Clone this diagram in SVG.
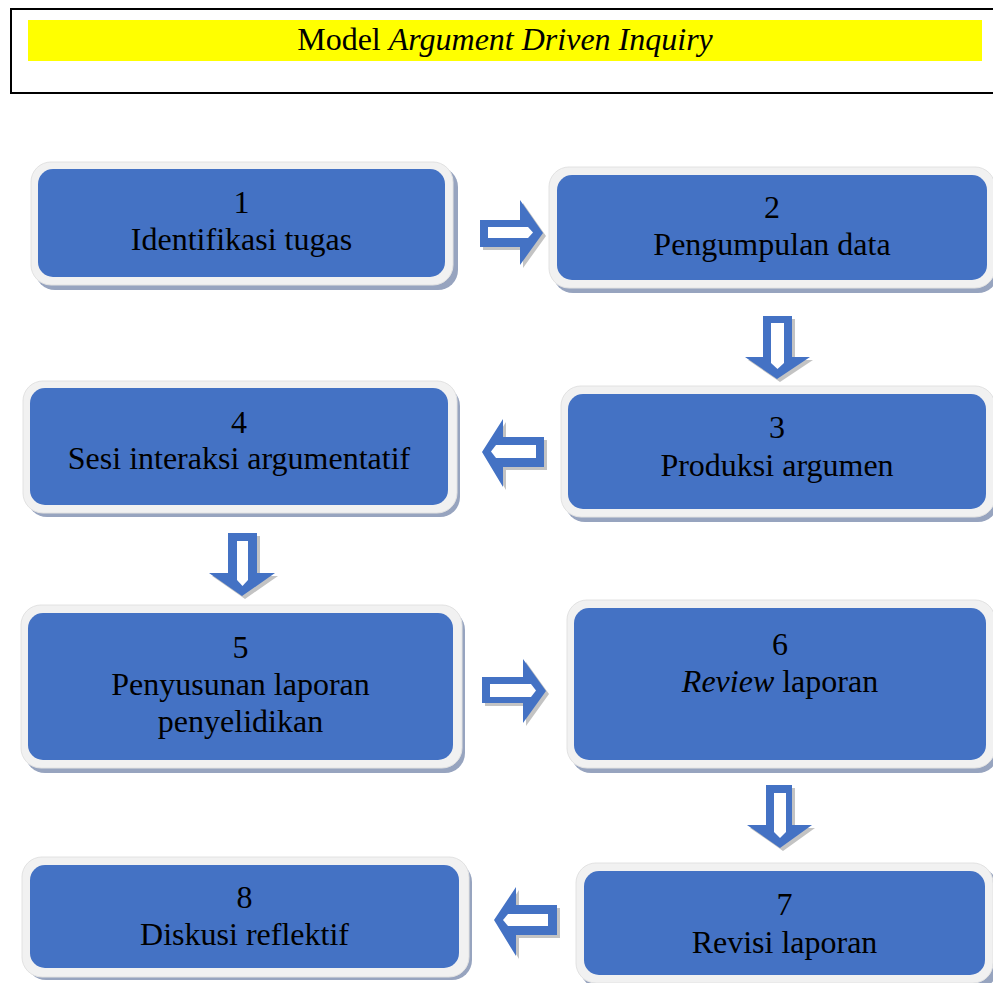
<svg xmlns="http://www.w3.org/2000/svg" width="993" height="983" viewBox="0 0 993 983">
<style>
.bg{fill:#ffffff}
.sh{fill:#97a4bf}
.fr{fill:#f1f1f1;stroke:#e2e2e2;stroke-width:1}
.bl{fill:#4472c4}
.t{font-family:"Liberation Serif","Times New Roman",serif;font-size:32px;fill:#000;text-anchor:middle}
.i{font-style:italic}
.ash{fill:#c3c3c3}
.ar{fill:#4472c4}
.ai{fill:#ffffff}
</style>
<rect class="bg" x="0" y="0" width="993" height="983"/>
<g id="title">
<rect x="11" y="9" width="990" height="84" fill="#ffffff" stroke="#000" stroke-width="2"/>
<rect x="28" y="20" width="954" height="41" fill="#ffff00"/>
<text class="t" x="505" y="50">Model <tspan class="i">Argument Driven Inquiry</tspan></text>
</g>
<g id="node1">
<rect class="sh" x="35" y="167" width="423" height="123" rx="20"/>
<rect class="fr" x="31" y="162" width="422" height="123" rx="20"/>
<rect class="bl" x="38" y="169" width="407" height="108" rx="15"/>
<text class="t" x="241.5" y="213">1</text>
<text class="t" x="241.5" y="250">Identifikasi tugas</text>
</g>
<g id="node2">
<rect class="sh" x="553" y="172" width="445" height="121" rx="20"/>
<rect class="fr" x="549" y="167" width="446" height="121" rx="20"/>
<rect class="bl" x="557" y="175" width="430" height="105" rx="15"/>
<text class="t" x="772" y="218">2</text>
<text class="t" x="772" y="255">Pengumpulan data</text>
</g>
<g id="node3">
<rect class="sh" x="565" y="391" width="433" height="131" rx="20"/>
<rect class="fr" x="561" y="386" width="434" height="131" rx="20"/>
<rect class="bl" x="568" y="394" width="418" height="115" rx="15"/>
<text class="t" x="777" y="438">3</text>
<text class="t" x="777" y="476">Produksi argumen</text>
</g>
<g id="node4">
<rect class="sh" x="27" y="386" width="433" height="131" rx="20"/>
<rect class="fr" x="23" y="381" width="434" height="132" rx="20"/>
<rect class="bl" x="30" y="388" width="418" height="117" rx="15"/>
<text class="t" x="239" y="433">4</text>
<text class="t" x="239" y="469">Sesi interaksi argumentatif</text>
</g>
<g id="node5">
<rect class="sh" x="25" y="610" width="440" height="163" rx="20"/>
<rect class="fr" x="21" y="605" width="441" height="163" rx="20"/>
<rect class="bl" x="28" y="613" width="425" height="147" rx="15"/>
<text class="t" x="240.5" y="658">5</text>
<text class="t" x="240.5" y="695">Penyusunan laporan</text>
<text class="t" x="240.5" y="732">penyelidikan</text>
</g>
<g id="node6">
<rect class="sh" x="571" y="605" width="427" height="168" rx="20"/>
<rect class="fr" x="567" y="600" width="428" height="168" rx="20"/>
<rect class="bl" x="574" y="608" width="412" height="152" rx="15"/>
<text class="t" x="780" y="655">6</text>
<text class="t" x="780" y="692"><tspan class="i">Review</tspan> laporan</text>
</g>
<g id="node7">
<rect class="sh" x="580" y="868" width="418" height="120" rx="20"/>
<rect class="fr" x="576" y="863" width="417" height="120" rx="20"/>
<rect class="bl" x="584" y="871" width="401" height="104" rx="15"/>
<text class="t" x="784.5" y="915">7</text>
<text class="t" x="784.5" y="953">Revisi laporan</text>
</g>
<g id="node8">
<rect class="sh" x="26" y="862" width="446" height="118" rx="20"/>
<rect class="fr" x="22" y="857" width="447" height="120" rx="20"/>
<rect class="bl" x="30" y="865" width="429" height="103" rx="15"/>
<text class="t" x="244.5" y="908">8</text>
<text class="t" x="244.5" y="945">Diskusi reflektif</text>
</g>
<g id="connectors">
<g id="a12">
<polygon class="ash" points="483,223 523,223 523,203 546,236 523,268 523,250 483,250"/>
<polygon class="ar" points="480,220 520,220 520,200 543,233 520,265 520,247 480,247"/>
<polygon class="ai" points="488,227 528,227 533,232.5 528,238 488,238"/>
</g>
<g id="a23">
<polygon class="ash" points="766,319 795,319 795,360 813,360 780,382 748,360 766,360"/>
<polygon class="ar" points="763,316 792,316 792,357 810,357 777,379 745,357 763,357"/>
<polygon class="ai" points="771,323 784,323 784,363 777.5,369 771,363"/>
</g>
<g id="a34">
<polygon class="ash" points="547,440 506,440 506,422 485,455 506,490 506,470 547,470"/>
<polygon class="ar" points="544,437 503,437 503,419 482,452 503,487 503,467 544,467"/>
<polygon class="ai" points="536,445 496,445 491,451.5 496,458 536,458"/>
</g>
<g id="a45">
<polygon class="ash" points="231,536 260,536 260,576 278,576 245,599 212,576 231,576"/>
<polygon class="ar" points="228,533 257,533 257,573 275,573 242,596 209,573 228,573"/>
<polygon class="ai" points="237,541 248,541 248,580 242.5,586 237,580"/>
</g>
<g id="a56">
<polygon class="ash" points="485,680 526,680 526,662 549,694 526,726 526,706 485,706"/>
<polygon class="ar" points="482,677 523,677 523,659 546,691 523,723 523,703 482,703"/>
<polygon class="ai" points="490,684 531,684 536,690.5 531,697 490,697"/>
</g>
<g id="a67">
<polygon class="ash" points="769,788 795,788 795,828 815,828 783,851 750,828 769,828"/>
<polygon class="ar" points="766,785 792,785 792,825 812,825 780,848 747,825 766,825"/>
<polygon class="ai" points="774,793 786,793 786,832 780,838 774,832"/>
</g>
<g id="a78">
<polygon class="ash" points="560,908 519,908 519,890 497,923 519,959 519,938 560,938"/>
<polygon class="ar" points="557,905 516,905 516,887 494,920 516,956 516,935 557,935"/>
<polygon class="ai" points="548,914 508,914 503,920 508,926 548,926"/>
</g>
</g>
</svg>
